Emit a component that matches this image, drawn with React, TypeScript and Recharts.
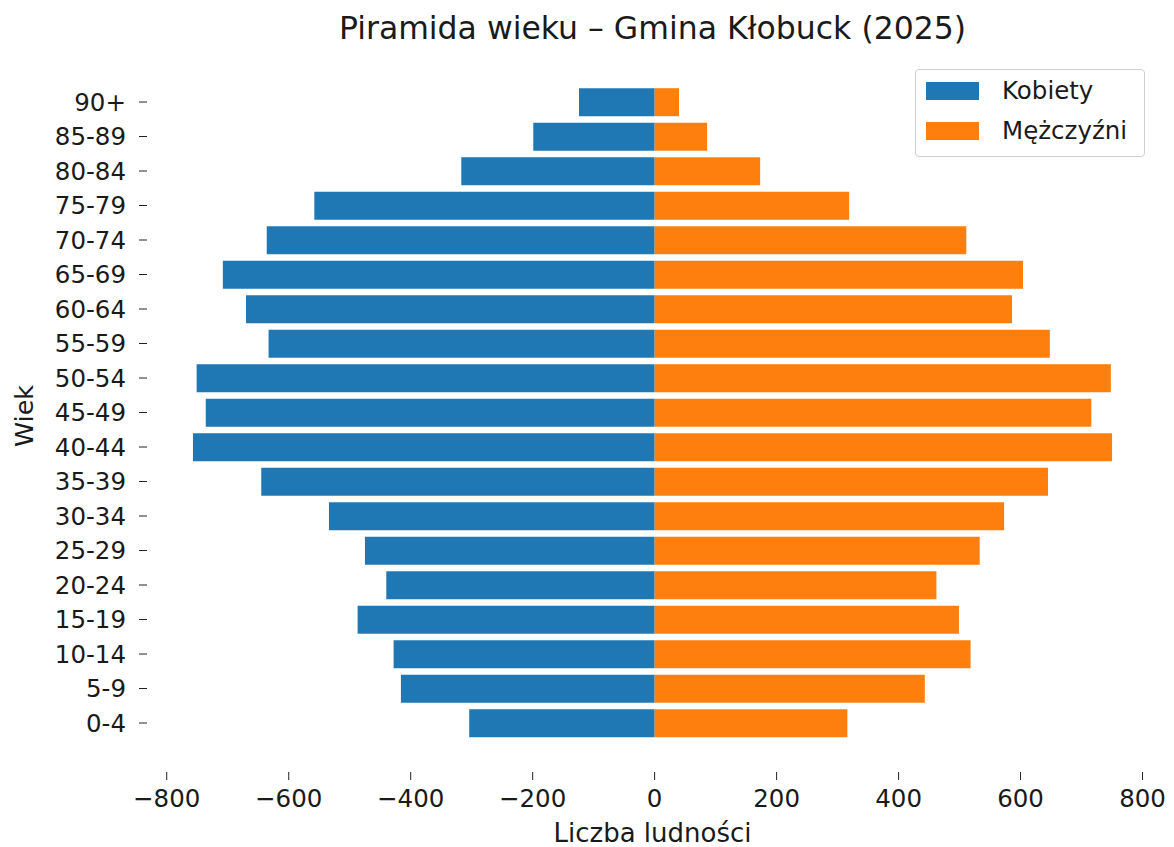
import React from "react";
import { Bar, BarChart, Label, Legend, XAxis, YAxis } from "recharts";

// age groups, bottom to top
const ageGroups = [
  "0-4", "5-9", "10-14", "15-19", "20-24", "25-29", "30-34", "35-39", "40-44",
  "45-49", "50-54", "55-59", "60-64", "65-69", "70-74", "75-79", "80-84", "85-89", "90+",
];

const women = [304, 416, 428, 487, 440, 475, 534, 645, 757, 736, 751, 633, 670, 708, 636, 558, 317, 199, 124];
const men = [316, 443, 518, 499, 462, 533, 573, 645, 750, 716, 748, 648, 586, 604, 511, 319, 173, 86, 40];

const xTicks = [-800, -600, -400, -200, 0, 200, 400, 600, 800];

const FONT = "'DejaVu Sans', sans-serif";
const TEXT = "#1a1a1a";

const rows = ageGroups.map((age, i) => ({
  age,
  kobiety: -women[i],
  mezczyzni: men[i],
}));

// matplotlib-like 5% margin around the data
const dataMin = -Math.max(...women);
const dataMax = Math.max(...men);
const span = dataMax - dataMin;
const xDomain = [dataMin - 0.05 * span, dataMax + 0.05 * span];

const fmt = (v: number) => (v < 0 ? `\u2212${Math.abs(v)}` : `${v}`);

const renderLegend = (props: any) => {
  const items = props.payload || [];
  return (
    <div
      style={{
        boxSizing: "border-box",
        width: 230,
        height: 88,
        border: "1px solid #d0d0d0",
        borderRadius: 4,
        background: "rgba(255,255,255,0.8)",
        position: "relative",
        fontFamily: FONT,
        fontSize: 24.5,
        color: TEXT,
      }}
    >
      {items.map((item: any, i: number) => (
        <div
          key={item.value}
          style={{ position: "absolute", left: 10, top: 12 + i * 40, height: 18, display: "flex", alignItems: "center" }}
        >
          <span style={{ display: "inline-block", width: 53, height: 18, background: item.color }} />
          <span style={{ marginLeft: 23, lineHeight: "18px", whiteSpace: "nowrap" }}>{item.value}</span>
        </div>
      ))}
    </div>
  );
};

const App = () => {
  return (
    <div style={{ position: "absolute", left: 0, top: 0, width: 1174, height: 847, background: "#fff" }}>
      <div
        style={{
          position: "absolute",
          left: 0,
          top: 13,
          width: 1305,
          textAlign: "center",
          fontFamily: FONT,
          fontSize: 31.5,
          lineHeight: "31.5px",
          color: TEXT,
          whiteSpace: "nowrap",
        }}
      >
        Piramida wieku – Gmina Kłobuck (2025)
      </div>
      <BarChart
        width={1174}
        height={847}
        data={rows}
        layout="vertical"
        stackOffset="sign"
        barCategoryGap="10%"
        margin={{ top: 60, right: 16, bottom: 0, left: 0 }}
      >
        <XAxis
          type="number"
          domain={xDomain}
          ticks={xTicks}
          interval={0}
          allowDataOverflow
          tickFormatter={fmt}
          axisLine={false}
          tickLine={{ stroke: "#222" }}
          tickSize={8}
          tickMargin={10}
          height={75}
          tick={{ fill: TEXT, fontSize: 24.5, fontFamily: FONT }}
        >
          <Label
            value="Liczba ludności"
            position="insideBottom"
            offset={5}
            style={{ fill: TEXT, fontSize: 26, fontFamily: FONT }}
          />
        </XAxis>
        <YAxis
          type="category"
          dataKey="age"
          reversed
          width={147}
          padding={{ top: 24.75, bottom: 31.75 }}
          interval={0}
          axisLine={false}
          tickLine={{ stroke: "#222" }}
          tickSize={8}
          tickMargin={13}
          tick={{ fill: TEXT, fontSize: 24.5, fontFamily: FONT }}
        >
          <Label
            content={(p: any) => {
              const vb = p.viewBox || { x: 0, y: 60, height: 712 };
              const x = vb.x + 33;
              const y = vb.y + vb.height / 2;
              return (
                <text
                  x={x}
                  y={y}
                  transform={`rotate(-90, ${x}, ${y})`}
                  textAnchor="middle"
                  fill={TEXT}
                  fontSize={25.5}
                  fontFamily={FONT}
                >
                  Wiek
                </text>
              );
            }}
          />
        </YAxis>
        <Legend
          layout="horizontal"
          verticalAlign="middle"
          align="center"
          wrapperStyle={{ left: 915, top: 69, width: 230, height: 88 }}
          content={renderLegend}
        />
        <Bar dataKey="kobiety" name="Kobiety" stackId="a" fill="#1f77b4" isAnimationActive={false} />
        <Bar dataKey="mezczyzni" name="Mężczyźni" stackId="a" fill="#ff7f0e" isAnimationActive={false} />
      </BarChart>
    </div>
  );
};

export default App;
